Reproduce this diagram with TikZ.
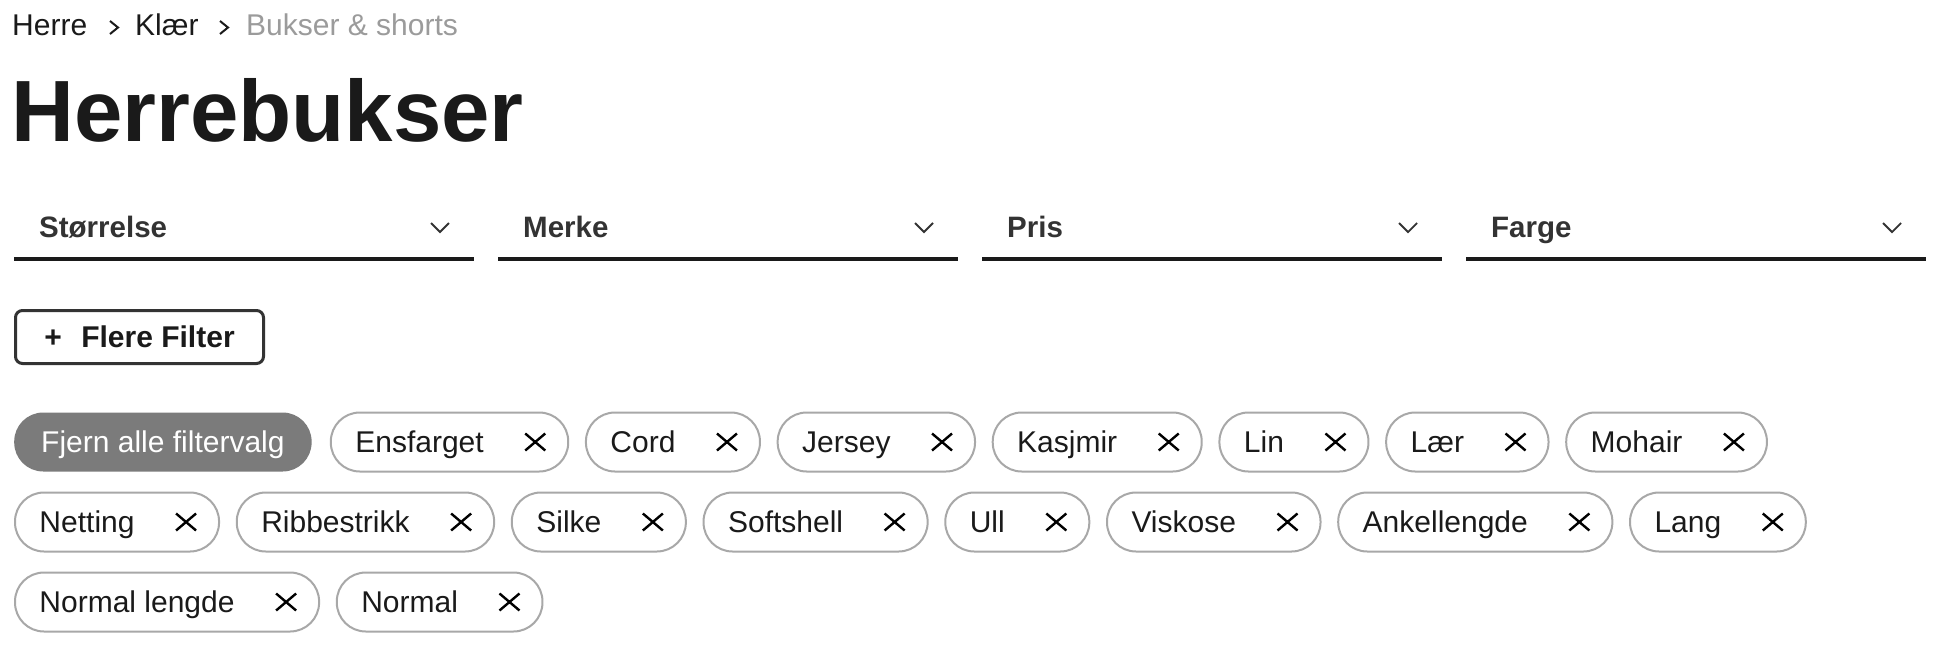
\documentclass[tikz,border=0pt]{standalone}
\usepackage{fontspec}
\setmainfont{Liberation Sans}
\usepackage{xcolor}
\usetikzlibrary{positioning}

\definecolor{ink}{HTML}{1A1A1A}
\definecolor{crumbgray}{HTML}{9B9B9B}
\definecolor{labelink}{HTML}{333333}
\definecolor{chipline}{HTML}{A8A8A8}
\definecolor{chipfill}{HTML}{7B7B7B}

\tikzset{
	crumb/.style={anchor=base west,inner sep=0pt,text=ink,font=\fontsize{30}{36}\selectfont},
	crumbchev/.style={draw=ink,line width=2pt},
	pagetitle/.style={anchor=base west,inner sep=0pt,text=ink,font=\fontsize{87}{96}\selectfont\bfseries},
	ddlabel/.style={anchor=base west,inner sep=0pt,text=labelink,font=\fontsize{29.5}{34}\selectfont\bfseries},
	ddline/.style={draw=ink,line width=4pt},
	ddchev/.style={draw=labelink,line width=1.8pt},
	morebtn/.style={draw=labelink,line width=3pt,rounded corners=7pt,inner sep=0pt,
		minimum width=248pt,minimum height=53pt,text=ink,font=\fontsize{30}{36}\selectfont\bfseries},
	chip/.style={draw=chipline,line width=2pt,rounded corners=29pt,inner sep=0pt,
		minimum height=59pt,text height=21.5pt,text depth=0pt,text=ink,
		font=\fontsize{30}{36}\selectfont,
		execute at begin node={\hspace*{24.5pt}},execute at end node={\hspace*{84.5pt}}},
	chipdark/.style={fill=chipfill,rounded corners=29pt,inner sep=0pt,
		minimum height=59pt,text height=21.5pt,text depth=0pt,text=white,
		font=\fontsize{30}{36}\selectfont,
		execute at begin node={\hspace*{27pt}},execute at end node={\hspace*{27pt}}},
	xmark/.style={draw=black,line width=2.4pt}
}

% the cross inside a chip, drawn from its east anchor
\newcommand{\chipx}[1]{%
	\draw[xmark] ([shift={(-44,-8.5)}]#1.east) -- ([shift={(-24,8.5)}]#1.east)
		([shift={(-44,8.5)}]#1.east) -- ([shift={(-24,-8.5)}]#1.east);}

\begin{document}
\begin{tikzpicture}[x=1pt,y=-1pt]
	\useasboundingbox[fill=white] (0,0) rectangle (1946,654);

	% breadcrumb
	\node[crumb] (herre) at (12,35) {Herre};
	\draw[crumbchev] (110,21) -- (118,27.5) -- (110,34);
	\node[crumb] (klaer) at (135,35) {Klær};
	\draw[crumbchev] (220,21) -- (228,27.5) -- (220,34);
	\node[crumb,text=crumbgray] (bukser) at (246,35) {Bukser \& shorts};

	\node[pagetitle] (title) at (11,141) {Herrebukser};

	% dropdowns
	\foreach \lbl [count=\i from 0] in {Størrelse,Merke,Pris,Farge} {
		\coordinate (dd\i) at (14+484*\i,259);
		\draw[ddline] (dd\i) -- ++(460,0);
		\node[ddlabel] (ddlbl\i) at ([shift={(25,-22)}]dd\i) {\lbl};
		\draw[ddchev] ([shift={(417,-36)}]dd\i) -- ([shift={(426,-27)}]dd\i)
			-- ([shift={(435,-36)}]dd\i);
	}

	\node[morebtn,anchor=north west] (flere) at (14,309)
		{+\hspace*{19.5pt}Flere Filter};

	% chips, row 1
	\node[chipdark,anchor=west] (fjern) at (14,442) {Fjern alle filtervalg};
	\node[chip,right=18pt of fjern] (ensf) {Ensfarget};
	\chipx{ensf}
	\foreach \nm/\lbl [remember=\nm as \prev (initially ensf)] in
		{cord/Cord,jersey/Jersey,kasjmir/Kasjmir,lin/Lin,laer/Lær,mohair/Mohair} {
		\node[chip,right=15.7pt of \prev] (\nm) {\lbl};
		\chipx{\nm}
	}

	% row 2
	\node[chip,anchor=west] (netting) at (14,522) {Netting};
	\chipx{netting}
	\foreach \nm/\lbl [remember=\nm as \prev (initially netting)] in
		{ribb/Ribbestrikk,silke/Silke,soft/Softshell,ull/Ull,visk/Viskose,ankel/Ankellengde,lang/Lang} {
		\node[chip,right=15.7pt of \prev] (\nm) {\lbl};
		\chipx{\nm}
	}

	% row 3
	\node[chip,anchor=west] (normlen) at (14,602) {Normal lengde};
	\chipx{normlen}
	\node[chip,right=15.7pt of normlen] (normal) {Normal};
	\chipx{normal}
\end{tikzpicture}
\end{document}
